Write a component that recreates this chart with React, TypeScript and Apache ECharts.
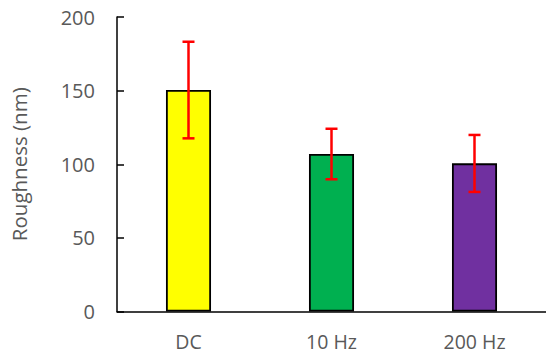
import React, { useEffect, useRef } from "react";
import * as echarts from "echarts";

const categories = ["DC", "10 Hz", "200 Hz"];
const values = [150.5, 107.0, 100.6];
const errLow = [117.6, 89.8, 81.2];
const errHigh = [183.2, 124.1, 119.9];
const colors = ["#FFFF00", "#00B050", "#7030A0"];
const yTicks = { min: 0, max: 200, interval: 50 };

export default function App() {
  const ref = useRef<HTMLDivElement>(null);
  useEffect(() => {
    const chart = echarts.init(ref.current!, null, { renderer: "svg" });
    const font = "Open Sans, Liberation Sans, sans-serif";
    chart.setOption({
      animation: false,
      grid: { left: 113, top: 17, width: 443, height: 294.5, containLabel: false },
      xAxis: {
        type: "category",
        data: categories,
        axisLine: { lineStyle: { color: "#000", width: 1.5 } },
        axisTick: { show: false },
        axisLabel: { color: "#595959", fontSize: 19.5, fontFamily: font, margin: 20 },
      },
      yAxis: {
        type: "value",
        min: yTicks.min,
        max: yTicks.max,
        interval: yTicks.interval,
        name: "Roughness (nm)",
        nameLocation: "middle",
        nameGap: 88,
        nameTextStyle: { color: "#595959", fontSize: 20.5, fontFamily: font },
        axisLine: { show: true, lineStyle: { color: "#000", width: 1.5 } },
        axisTick: { show: true, inside: true, length: 7, lineStyle: { color: "#000", width: 1.5 } },
        axisLabel: { color: "#595959", fontSize: 20, fontFamily: font, margin: 22 },
        splitLine: { show: false },
      },
      series: [
        {
          type: "bar",
          barWidth: "31.5%",
          data: values.map((v, i) => ({
            value: v,
            itemStyle: { color: colors[i], borderColor: "#000", borderWidth: 1.8 },
          })),
        },
        {
          type: "custom",
          data: categories.map((_, i) => [i, errLow[i], errHigh[i]]),
          z: 10,
          renderItem: (params: any, api: any) => {
            const x = api.value(0);
            const lo = api.coord([x, api.value(1)]);
            const hi = api.coord([x, api.value(2)]);
            const half = 6;
            const style = { stroke: "#FF0000", lineWidth: 2.5 };
            return {
              type: "group",
              children: [
                { type: "line", shape: { x1: lo[0], y1: lo[1], x2: hi[0], y2: hi[1] }, style },
                { type: "line", shape: { x1: hi[0] - half, y1: hi[1], x2: hi[0] + half, y2: hi[1] }, style },
                { type: "line", shape: { x1: lo[0] - half, y1: lo[1], x2: lo[0] + half, y2: lo[1] }, style },
              ],
            };
          },
        },
      ],
    });
    return () => chart.dispose();
  }, []);
  return <div ref={ref} style={{ width: 546, height: 358, position: "absolute", left: 0, top: 0 }} />;
}
